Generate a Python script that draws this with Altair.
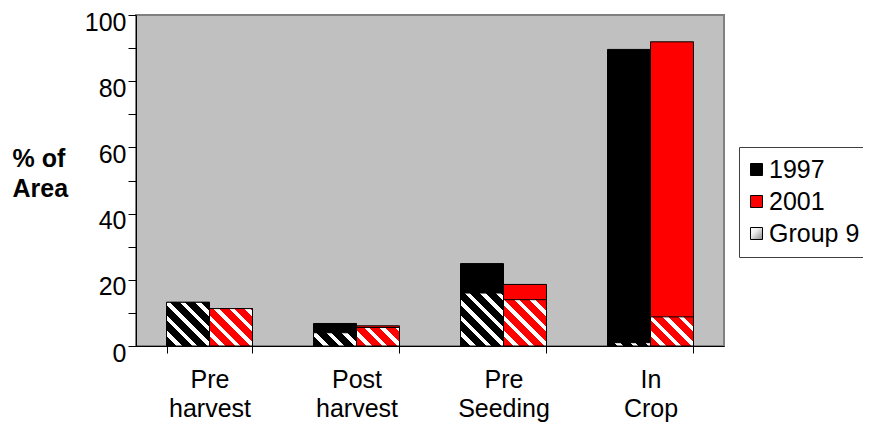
import math
import altair as alt

# ---------------- data ----------------
categories = ["Pre harvest", "Post harvest", "Pre Seeding", "In Crop"]
series = ["1997", "2001"]
total_1997 = [13.2, 6.8, 24.9, 89.6]
total_2001 = [11.3, 6.1, 18.6, 91.9]
group9_1997 = [13.2, 4.0, 16.0, 1.0]
group9_2001 = [11.3, 5.6, 14.0, 8.8]
legend_items = ["1997", "2001", "Group 9"]
y_tick_values = [0, 10, 20, 30, 40, 50, 60, 70, 80, 90, 100]

# ---------------- layout / style ----------------
PLOT_W, PLOT_H = 588, 331
Y_MAX = 100
PAD_INNER = 0.415
PAD_OUTER = PAD_INNER / 2
STEP = PLOT_W / len(categories)
BAR_PX = STEP * (1 - PAD_INNER) / len(series)
FONT = "Liberation Sans"
BASE = {"1997": "#000000", "2001": "#FF0000"}


def hatch_fill(base, w, h, period=11.0, white_frac=0.36):
    """Diagonal stripe fill as a linear gradient (45 deg in pixel space)."""
    h = max(h, 0.5)
    c = (1 / h + 1 / w) / (1 / h ** 2 + 1 / w ** 2)
    x2 = c / h
    y2 = 1 - c / w
    span = (w + h) / math.sqrt(2)
    p = period / span
    stops = []
    t = 0.0
    while t < 1:
        a = t
        b = min(t + p * (1 - white_frac), 1.0)
        e = min(t + p, 1.0)
        stops.append({"offset": round(a, 4), "color": base})
        stops.append({"offset": round(b, 4), "color": base})
        if b < 1:
            stops.append({"offset": round(b, 4), "color": "#ffffff"})
            stops.append({"offset": round(e, 4), "color": "#ffffff"})
        t += p
    return {"gradient": "linear", "x1": 0, "y1": 1, "x2": round(x2, 4),
            "y2": round(y2, 4), "stops": stops}


rows_total, rows_hatch = [], []
for i, cat in enumerate(categories):
    for s, tot, g in (("1997", total_1997[i], group9_1997[i]),
                      ("2001", total_2001[i], group9_2001[i])):
        rows_total.append({"category": cat, "series": s, "value": tot})
        rows_hatch.append({"category": cat, "series": s, "value": g,
                           "pattern": hatch_fill(BASE[s], BAR_PX, g / Y_MAX * PLOT_H)})

x_enc = alt.X(
    "category:N", sort=categories,
    scale=alt.Scale(paddingInner=PAD_INNER, paddingOuter=PAD_OUTER),
    axis=alt.Axis(title=None, labelExpr="split(datum.label, ' ')", labelAngle=0,
                  labelFontSize=25, labelFont=FONT, labelColor="black",
                  labelLineHeight=29, labelPadding=14, labelBaseline="top",
                  tickBand="extent", tickSize=7, tickColor="black",
                  domainColor="black", grid=False),
)
y_enc = alt.Y(
    "value:Q", scale=alt.Scale(domain=[0, Y_MAX], nice=False),
    axis=alt.Axis(values=y_tick_values,
                  labelExpr="datum.value % 20 == 0 ? datum.label : ''",
                  tickSize=8, tickColor="black", domainColor="black", grid=False,
                  labelFontSize=25, labelFont=FONT, labelColor="black", labelPadding=2,
                  labelOffset=7,
                  title=["% of", "Area"], titleFont=FONT, titleFontSize=25,
                  titleFontWeight="bold", titleColor="black", titleAngle=0,
                  titleAlign="left", titleBaseline="alphabetic", titleX=-124, titleY=151,
                  titleLineHeight=30),
)
xoff = alt.XOffset("series:N", sort=series)

legend_grad = ("{gradient:'linear',x1:0,y1:0,x2:1,y2:1,stops:["
               "{offset:0,color:'#ffffff'},{offset:0.35,color:'#f0f0f0'},"
               "{offset:1,color:'#8a8a8a'}]}")

bars = alt.Chart(alt.Data(values=rows_total)).mark_bar(stroke="black", strokeWidth=1).encode(
    x=x_enc, xOffset=xoff, y=y_enc,
    fill=alt.Fill("series:N",
                  scale=alt.Scale(domain=legend_items,
                                  range=["#000000", "#FF0000", {"expr": legend_grad}]),
                  legend=alt.Legend(title=None, orient="none", legendX=603, legendY=132,
                                    symbolType="square", symbolSize=144,
                                    symbolStrokeColor="black", symbolStrokeWidth=1,
                                    symbolOffset=-5,
                                    labelFontSize=25, labelFont=FONT, labelColor="black",
                                    labelOffset=0, rowPadding=6, padding=10,
                                    strokeColor="#404040", fillColor="white")),
)

hatch = alt.Chart(alt.Data(values=rows_hatch)).mark_bar(stroke="black", strokeWidth=1).encode(
    x=x_enc, xOffset=xoff, y=y_enc,
    fill=alt.Fill("pattern:N", scale=None, legend=None),
)

chart = alt.layer(bars, hatch).properties(
    width=PLOT_W, height=PLOT_H,
    padding={"left": 128, "top": 7, "right": 139, "bottom": 76},
    autosize=alt.AutoSizeParams(type="none"),
    background="white",
).configure_view(fill="#C0C0C0", stroke="#808080", strokeWidth=2)

chart.save("out.html", embed_options={"renderer": "svg", "actions": False})
